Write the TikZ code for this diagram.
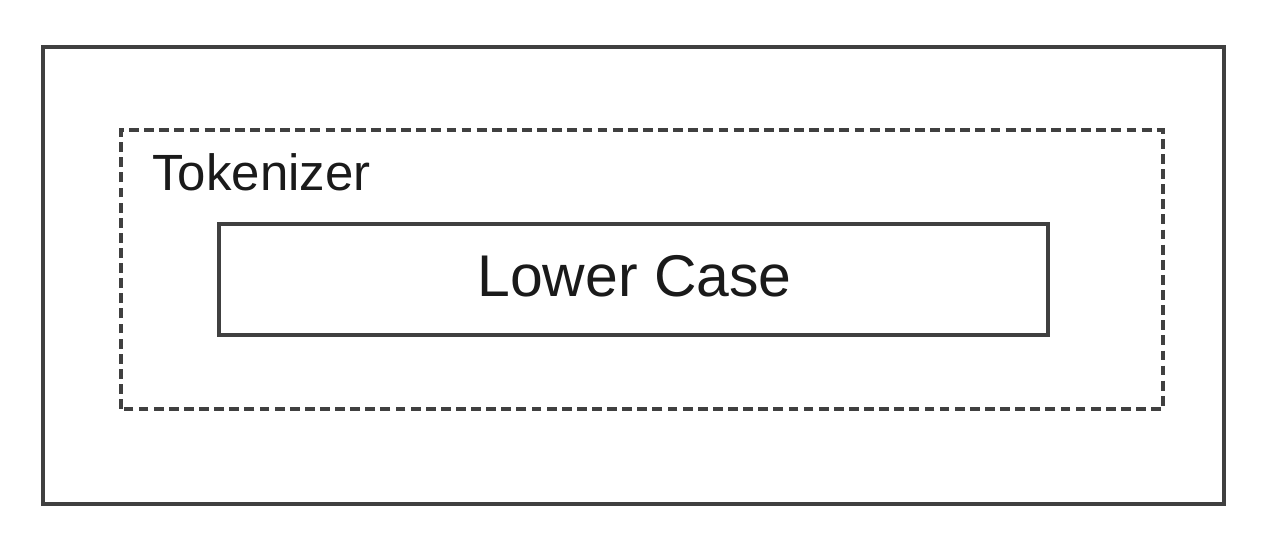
\documentclass[tikz,border=0pt]{standalone}
\usepackage{fontspec}
\setmainfont{Liberation Sans}
\definecolor{boxgray}{HTML}{404040}
\definecolor{textgray}{HTML}{1A1A1A}

\begin{document}
\begin{tikzpicture}
	\useasboundingbox (0,0) rectangle (25.42,10.88);
	\tikzset{frame/.style={draw=boxgray,line width=2pt},
		stage/.style={draw=boxgray,line width=1.9pt,dash pattern=on 5.6pt off 3pt},
		label/.style={inner sep=0pt,text=textgray}}
	\draw[frame] (0.86,0.80)rectangle(24.48,9.94);
	\draw[stage] (2.42,2.70)rectangle(23.26,8.28);
	\draw[frame] (4.38,4.18)rectangle(20.96,6.40);
	\node[label,anchor=base west,font=\fontsize{29}{34}\selectfont] (tokenizer) at (3.04,7.06) {Tokenizer};
	\node[label,anchor=base,font=\fontsize{33.5}{40}\selectfont] (lowercase) at (12.69,4.94) {Lower Case};
\end{tikzpicture}
\end{document}
